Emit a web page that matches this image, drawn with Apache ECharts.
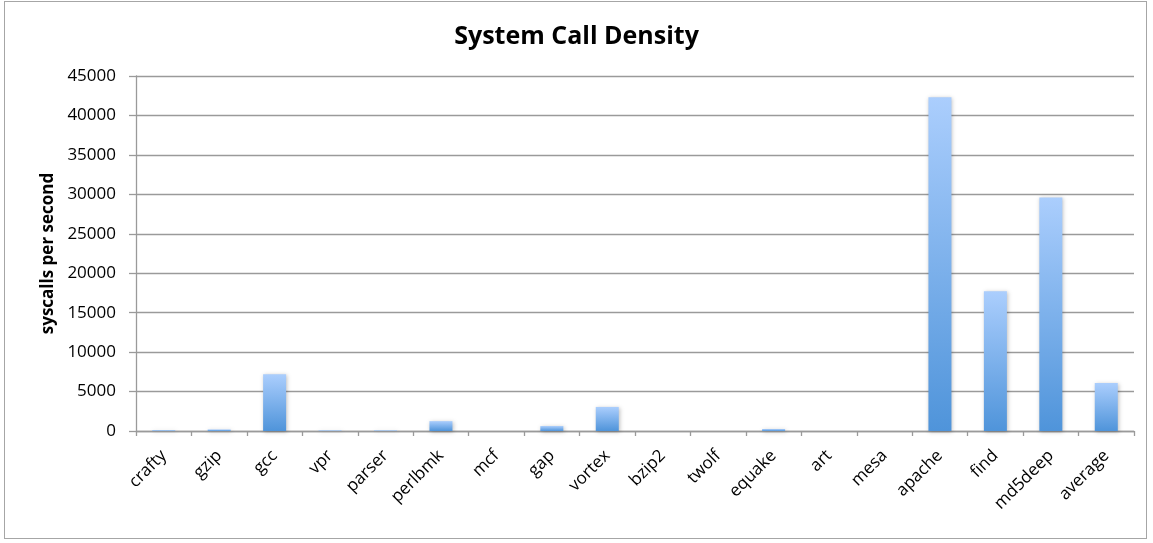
<!DOCTYPE html>
<html>
<head>
<meta charset="utf-8">
<script src="https://cdn.jsdelivr.net/npm/echarts@6/dist/echarts.min.js"></script>
<style>
  html, body { margin: 0; padding: 0; background: #fff; }
  #frame { position: absolute; left: 4px; top: 1px; width: 1143px; height: 538px; border: 1px solid #a6a6a6; box-sizing: border-box; }
  #chart { width: 1153px; height: 543px; }
</style>
</head>
<body>
<div id="frame"></div>
<div id="chart"></div>
<script>
// Benchmarks on the category axis
const benchmarks = ['crafty', 'gzip', 'gcc', 'vpr', 'parser', 'perlbmk', 'mcf', 'gap', 'vortex',
  'bzip2', 'twolf', 'equake', 'art', 'mesa', 'apache', 'find', 'md5deep', 'average'];
// System calls per second for each benchmark
const syscallsPerSecond = [100, 200, 7200, 80, 80, 1250, 0, 630, 3050,
  0, 0, 250, 0, 0, 42300, 17700, 29600, 6100];
// Value axis range
const yMin = 0, yMax = 45000, yStep = 5000;

const chart = echarts.init(document.getElementById('chart'), null, { renderer: 'canvas' });
const font = '"Open Sans", "Liberation Sans", sans-serif';
const axisGray = '#9a9a9a';

chart.setOption({
  backgroundColor: 'transparent',
  animation: false,
  title: {
    text: 'System Call Density',
    left: 'center',
    top: 19,
    textStyle: { fontFamily: font, fontSize: 25, fontWeight: 'bold', color: '#000' }
  },
  grid: { left: 136, right: 19, top: 76, bottom: 112 },
  xAxis: {
    type: 'category',
    data: benchmarks,
    axisLine: { lineStyle: { color: axisGray, width: 1.3 } },
    axisTick: { show: true, length: 5, lineStyle: { color: axisGray, width: 1.3 } },
    axisLabel: { rotate: 45, margin: 22, fontFamily: font, fontSize: 17, color: '#000', interval: 0 }
  },
  yAxis: {
    type: 'value',
    min: yMin,
    max: yMax,
    interval: yStep,
    name: 'syscalls per second',
    nameLocation: 'middle',
    nameGap: 79,
    nameTextStyle: { fontFamily: font, fontSize: 17, fontWeight: 'bold', color: '#000' },
    axisLine: { show: true, lineStyle: { color: axisGray, width: 1.3 } },
    axisTick: { show: true, length: 7, lineStyle: { color: axisGray, width: 1.3 } },
    axisLabel: { fontFamily: font, fontSize: 17, color: '#000', margin: 20, formatter: v => String(v) },
    splitLine: { lineStyle: { color: axisGray, width: 1.3 } }
  },
  series: [{
    type: 'bar',
    data: syscallsPerSecond,
    barWidth: 23,
    itemStyle: {
      color: new echarts.graphic.LinearGradient(0, 0, 0, 1, [
        { offset: 0, color: '#abcefd' },
        { offset: 1, color: '#4f94da' }
      ]),
      shadowColor: 'rgba(0,0,0,0.25)',
      shadowBlur: 4,
      shadowOffsetX: 1,
      shadowOffsetY: 1
    }
  }]
});
</script>
</body>
</html>
